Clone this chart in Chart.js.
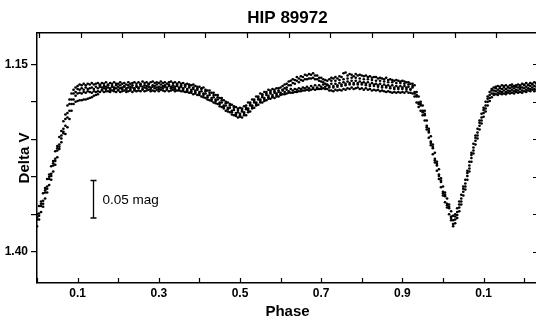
<!DOCTYPE html>
<html><head><meta charset="utf-8">
<script src="https://cdn.jsdelivr.net/npm/chart.js@4/dist/chart.umd.min.js"></script>
<style>
html,body{margin:0;padding:0;background:#fff;overflow:hidden;width:536px;height:326px}
#wrap{width:545px;height:326px}
canvas{display:block}
</style>
</head><body>
<div id="wrap"><canvas id="c" width="545" height="326"></canvas></div>
<script>
const titleText = 'HIP 89972';
const xTitle = 'Phase';
const yTitle = 'Delta V';

const phase = [
0,0.005,0.01,0.015,0.02,0.025,0.03,0.035,0.04,0.045,
0.05,0.055,0.06,0.065,0.07,0.075,0.08,0.085,0.09,0.095,
0.1,0.105,0.11,0.115,0.12,0.125,0.13,0.135,0.14,0.145,
0.15,0.155,0.16,0.165,0.17,0.175,0.18,0.185,0.19,0.195,
0.2,0.205,0.21,0.215,0.22,0.225,0.23,0.235,0.24,0.245,
0.25,0.255,0.26,0.265,0.27,0.275,0.28,0.285,0.29,0.295,
0.3,0.305,0.31,0.315,0.32,0.325,0.33,0.335,0.34,0.345,
0.35,0.355,0.36,0.365,0.37,0.375,0.38,0.385,0.39,0.395,
0.4,0.405,0.41,0.415,0.42,0.425,0.43,0.435,0.44,0.445,
0.45,0.455,0.46,0.465,0.47,0.475,0.48,0.485,0.49,0.495,
0.5,0.505,0.51,0.515,0.52,0.525,0.53,0.535,0.54,0.545,
0.55,0.555,0.56,0.565,0.57,0.575,0.58,0.585,0.59,0.595,
0.6,0.605,0.61,0.615,0.62,0.625,0.63,0.635,0.64,0.645,
0.65,0.655,0.66,0.665,0.67,0.675,0.68,0.685,0.69,0.695,
0.7,0.705,0.71,0.715,0.72,0.725,0.73,0.735,0.74,0.745,
0.75,0.755,0.76,0.765,0.77,0.775,0.78,0.785,0.79,0.795,
0.8,0.805,0.81,0.815,0.82,0.825,0.83,0.835,0.84,0.845,
0.85,0.855,0.86,0.865,0.87,0.875,0.88,0.885,0.89,0.895,
0.9,0.905,0.91,0.915,0.92,0.925,0.93,0.935,0.94,0.945,
0.95,0.955,0.96,0.965,0.97,0.975,0.98,0.985,0.99,0.995,
1,1.005,1.01,1.015,1.02,1.025,1.03,1.035,1.04,1.045,
1.05,1.055,1.06,1.065,1.07,1.075,1.08,1.085,1.09,1.095,
1.1,1.105,1.11,1.115,1.12,1.125,1.13,1.135,1.14,1.145,
1.15,1.155,1.16,1.165,1.17,1.175,1.18,1.185,1.19,1.195,
1.2,1.205,1.21,1.215,1.22,1.225,1.23
];

const magA = [
1.350,1.339,1.333,1.322,1.315,1.303,1.297,1.286,1.279,1.266,
1.259,1.247,1.239,1.226,1.217,1.205,1.197,1.189,1.184,1.181,
1.179,1.177,1.178,1.176,1.178,1.176,1.177,1.175,1.177,1.176,
1.175,1.177,1.175,1.176,1.174,1.177,1.175,1.176,1.174,1.176,
1.176,1.174,1.176,1.175,1.177,1.174,1.176,1.175,1.174,1.176,
1.174,1.176,1.173,1.175,1.174,1.176,1.174,1.173,1.175,1.174,
1.175,1.173,1.175,1.174,1.176,1.174,1.173,1.175,1.174,1.176,
1.174,1.176,1.175,1.177,1.176,1.177,1.178,1.177,1.179,1.180,
1.180,1.182,1.181,1.184,1.185,1.185,1.188,1.188,1.191,1.191,
1.195,1.195,1.198,1.200,1.201,1.203,1.204,1.206,1.207,1.209,
1.208,1.209,1.206,1.205,1.201,1.201,1.197,1.197,1.193,1.193,
1.189,1.190,1.187,1.187,1.184,1.185,1.183,1.184,1.182,1.182,
1.181,1.179,1.177,1.176,1.173,1.172,1.170,1.171,1.167,1.169,
1.166,1.167,1.164,1.165,1.163,1.164,1.162,1.165,1.165,1.168,
1.168,1.170,1.171,1.172,1.170,1.168,1.169,1.167,1.169,1.166,
1.167,1.162,1.161,1.165,1.163,1.164,1.166,1.163,1.165,1.164,
1.165,1.166,1.165,1.167,1.166,1.168,1.167,1.167,1.169,1.168,
1.169,1.170,1.168,1.171,1.170,1.171,1.172,1.171,1.172,1.173,
1.172,1.173,1.174,1.174,1.176,1.176,1.178,1.187,1.193,1.200,
1.205,1.212,1.225,1.236,1.246,1.257,1.268,1.280,1.290,1.302,
1.313,1.321,1.329,1.337,1.346,1.352,1.350,1.342,1.333,1.324,
1.313,1.304,1.292,1.280,1.268,1.256,1.245,1.236,1.225,1.216,
1.208,1.200,1.193,1.187,1.183,1.181,1.180,1.179,1.180,1.178,
1.179,1.178,1.180,1.178,1.177,1.179,1.178,1.177,1.178,1.176,
1.177,1.175,1.177,1.175,1.176,1.174,1.175
];

const magB = [
1.357,1.349,1.339,1.332,1.321,1.313,1.303,1.296,1.285,1.276,
1.265,1.257,1.245,1.236,1.223,1.215,1.203,1.197,1.189,1.187,
1.183,1.184,1.182,1.184,1.181,1.183,1.182,1.181,1.183,1.180,
1.182,1.180,1.181,1.182,1.180,1.181,1.182,1.180,1.181,1.182,
1.180,1.182,1.181,1.180,1.182,1.181,1.180,1.181,1.182,1.180,
1.181,1.179,1.180,1.181,1.179,1.180,1.181,1.180,1.179,1.181,
1.180,1.181,1.179,1.180,1.181,1.179,1.180,1.181,1.180,1.179,
1.181,1.180,1.182,1.180,1.183,1.181,1.184,1.183,1.185,1.184,
1.187,1.186,1.189,1.189,1.192,1.191,1.195,1.194,1.197,1.197,
1.201,1.201,1.205,1.205,1.208,1.208,1.212,1.211,1.215,1.214,
1.216,1.213,1.214,1.210,1.209,1.205,1.205,1.201,1.201,1.197,
1.197,1.194,1.195,1.191,1.192,1.189,1.191,1.188,1.189,1.187,
1.188,1.185,1.187,1.184,1.186,1.183,1.185,1.183,1.184,1.182,
1.183,1.181,1.182,1.180,1.182,1.179,1.181,1.178,1.181,1.178,
1.180,1.177,1.180,1.177,1.179,1.176,1.179,1.176,1.178,1.175,
1.177,1.174,1.176,1.173,1.175,1.172,1.175,1.172,1.175,1.173,
1.175,1.174,1.176,1.174,1.177,1.175,1.177,1.176,1.178,1.176,
1.179,1.177,1.179,1.178,1.180,1.178,1.181,1.179,1.181,1.179,
1.181,1.179,1.181,1.180,1.183,1.181,1.187,1.193,1.201,1.205,
1.212,1.218,1.232,1.241,1.253,1.262,1.276,1.285,1.297,1.307,
1.320,1.326,1.336,1.342,1.353,1.358,1.357,1.347,1.341,1.329,
1.320,1.309,1.299,1.285,1.275,1.261,1.252,1.241,1.232,1.221,
1.215,1.205,1.200,1.191,1.189,1.185,1.186,1.184,1.186,1.183,
1.185,1.183,1.185,1.182,1.184,1.182,1.184,1.181,1.183,1.181,
1.182,1.180,1.182,1.179,1.181,1.179,1.180
];

const magC = [
1.366,1.357,1.347,1.340,1.329,1.321,1.311,1.304,1.293,1.284,
1.274,1.263,1.254,1.242,1.232,1.221,1.212,1.203,1.197,1.192,
1.189,1.188,1.189,1.187,1.188,1.186,1.187,1.188,1.186,1.187,
1.186,1.187,1.185,1.187,1.186,1.186,1.187,1.185,1.186,1.187,
1.185,1.187,1.186,1.185,1.187,1.186,1.185,1.187,1.185,1.186,
1.185,1.186,1.184,1.186,1.185,1.184,1.186,1.185,1.186,1.184,
1.186,1.184,1.185,1.186,1.184,1.186,1.185,1.184,1.186,1.185,
1.185,1.186,1.186,1.187,1.187,1.188,1.188,1.190,1.189,1.191,
1.191,1.193,1.194,1.195,1.197,1.198,1.199,1.201,1.202,1.203,
1.206,1.207,1.209,1.212,1.213,1.214,1.217,1.218,1.219,1.221,
1.220,1.221,1.218,1.218,1.214,1.213,1.209,1.208,1.205,1.204,
1.201,1.201,1.199,1.198,1.196,1.196,1.194,1.195,1.193,1.193,
1.191,1.190,1.190,1.189,1.188,1.188,1.188,1.187,1.187,1.186,
1.186,1.185,1.185,1.184,1.185,1.184,1.183,1.184,1.183,1.183,
1.183,1.182,1.183,1.183,1.185,1.185,1.186,1.184,1.185,1.184,
1.185,1.183,1.184,1.182,1.183,1.181,1.183,1.182,1.181,1.183,
1.182,1.184,1.182,1.184,1.183,1.185,1.184,1.185,1.184,1.186,
1.185,1.186,1.187,1.186,1.187,1.188,1.187,1.188,1.187,1.188,
1.187,1.188,1.186,1.188,1.188,1.189,1.193,1.201,1.207,1.212,
1.218,1.225,1.237,1.248,1.258,1.270,1.281,1.292,1.303,1.314,
1.325,1.334,1.341,1.350,1.358,1.366,1.362,1.355,1.346,1.337,
1.325,1.317,1.304,1.293,1.280,1.269,1.257,1.249,1.237,1.229,
1.220,1.213,1.205,1.199,1.194,1.191,1.190,1.191,1.189,1.190,
1.189,1.190,1.188,1.189,1.188,1.189,1.187,1.188,1.187,1.188,
1.186,1.187,1.185,1.186,1.184,1.186,1.184
];

const magD = [
1.354,1.352,1.336,1.336,1.318,1.316,1.300,1.299,1.282,1.279,
1.262,1.260,1.249,1.240,1.243,1.234,1.223,1.212,1.203,1.200,
1.199,1.198,1.198,1.197,1.197,1.196,1.195,1.194,1.192,1.191,
1.190,1.178,1.184,1.179,1.183,1.178,1.184,1.179,1.183,1.178,
1.184,1.178,1.183,1.179,1.184,1.178,1.183,1.178,1.184,1.179,
1.182,1.177,1.183,1.178,1.182,1.177,1.183,1.178,1.182,1.177,
1.183,1.177,1.182,1.178,1.183,1.177,1.182,1.178,1.183,1.177,
1.183,1.178,1.184,1.178,1.185,1.179,1.186,1.181,1.187,1.182,
1.189,1.183,1.191,1.186,1.194,1.188,1.197,1.191,1.199,1.194,
1.203,1.198,1.207,1.202,1.210,1.205,1.214,1.208,1.217,1.211,
1.218,1.211,1.216,1.208,1.211,1.203,1.207,1.199,1.203,1.195,
1.199,1.192,1.197,1.189,1.194,1.187,1.193,1.186,1.191,1.185,
1.190,1.184,1.182,1.181,1.178,1.178,1.175,1.176,1.172,1.174,
1.171,1.172,1.170,1.170,1.169,1.169,1.168,1.170,1.170,1.172,
1.173,1.174,1.176,1.178,1.181,1.172,1.181,1.172,1.180,1.171,
1.179,1.170,1.178,1.169,1.177,1.168,1.177,1.168,1.177,1.169,
1.177,1.170,1.178,1.170,1.179,1.171,1.179,1.172,1.180,1.172,
1.181,1.173,1.181,1.174,1.182,1.174,1.183,1.175,1.183,1.175,
1.183,1.176,1.183,1.177,1.184,1.179,1.189,1.191,1.203,1.203,
1.214,1.216,1.234,1.239,1.255,1.260,1.278,1.283,1.299,1.305,
1.322,1.324,1.338,1.340,1.355,1.363,1.353,1.351,1.337,1.333,
1.316,1.313,1.295,1.289,1.271,1.265,1.248,1.245,1.228,1.225,
1.211,1.209,1.196,1.195,1.185,1.189,1.182,1.188,1.182,1.187,
1.181,1.187,1.181,1.186,1.180,1.186,1.180,1.185,1.180,1.185,
1.178,1.184,1.178,1.183,1.177,1.183,1.176
];

const xTickValues = [0,0.1,0.2,0.3,0.4,0.5,0.6,0.7,0.8,0.9,1.0,1.1,1.2];
const xTickLabels = ['','0.1','','0.3','','0.5','','0.7','','0.9','','0.1',''];
const topTickValues = [0,0.1,0.2,0.3,0.4,0.5,0.6,0.7,0.8,0.9,1.0,1.1,1.2];
const yTickValues = [1.15,1.20,1.25,1.30,1.35,1.40];
const yTickLabels = ['1.15','','','','','1.40'];
const scaleBarMag = 0.05;
const scaleBarLabel = '0.05 mag';

const FONT = "'Liberation Sans', Arial, Helvetica, sans-serif";
const BLACK = '#000';

const pts = arr => phase.map((p, i) => ({x: p, y: arr[i]}));
const mkDs = arr => ({
  data: pts(arr),
  pointRadius: 1.35,
  pointHoverRadius: 1.35,
  pointBackgroundColor: BLACK,
  pointBorderWidth: 0,
  showLine: false
});

const frameTicks = {
  id: 'frameTicks',
  afterDraw(chart) {
    const {ctx, chartArea: a, scales} = chart;
    ctx.save();
    ctx.strokeStyle = BLACK;
    ctx.lineWidth = 1.2;
    ctx.beginPath();
    scales.x.ticks.forEach(t => {
      const px = Math.round(scales.x.getPixelForValue(t.value)) + 0.5;
      ctx.moveTo(px, a.bottom); ctx.lineTo(px, a.bottom - 5);
    });
    scales.xTop.ticks.forEach(t => {
      const px = Math.round(scales.xTop.getPixelForValue(t.value)) + 0.5;
      ctx.moveTo(px, a.top); ctx.lineTo(px, a.top + 5);
    });
    scales.yRight.ticks.forEach(t => {
      const py = Math.round(scales.yRight.getPixelForValue(t.value)) + 0.5;
      ctx.moveTo(a.right, py); ctx.lineTo(a.right - 5, py);
    });
    ctx.stroke();
    ctx.restore();
  }
};

const scaleBar = {
  id: 'scaleBar',
  afterDatasetsDraw(chart, args, opts) {
    const {ctx, scales: {x, y}} = chart;
    const px = Math.round(x.getPixelForValue(opts.phase)) + 0.5;
    const y1 = y.getPixelForValue(opts.top);
    const y2 = y.getPixelForValue(opts.top + scaleBarMag);
    ctx.save();
    ctx.strokeStyle = BLACK;
    ctx.lineWidth = 1.3;
    ctx.beginPath();
    ctx.moveTo(px, y1); ctx.lineTo(px, y2);
    ctx.moveTo(px - 3, y1); ctx.lineTo(px + 3, y1);
    ctx.moveTo(px - 3, y2); ctx.lineTo(px + 3, y2);
    ctx.stroke();
    ctx.fillStyle = BLACK;
    ctx.font = '13.5px ' + FONT;
    ctx.textAlign = 'left';
    ctx.textBaseline = 'middle';
    ctx.fillText(scaleBarLabel, px + 9, (y1 + y2) / 2 + 1);
    ctx.restore();
  }
};

const borderOpt = {display: true, color: BLACK, width: 1.5};

new Chart(document.getElementById('c'), {
  type: 'scatter',
  data: {datasets: [mkDs(magA), mkDs(magB), mkDs(magC), mkDs(magD)]},
  options: {
    responsive: false,
    animation: false,
    devicePixelRatio: 1,
    layout: {padding: 0},
    events: [],
    plugins: {
      legend: {display: false},
      tooltip: {enabled: false},
      title: {
        display: true, text: titleText, fullSize: false, color: BLACK,
        font: {family: FONT, size: 17, weight: 'bold'},
        padding: {top: 8, bottom: 0}
      },
      scaleBar: {phase: 0.1374, top: 1.305}
    },
    scales: {
      x: {
        type: 'linear', position: 'bottom', min: 0, max: 1.234,
        afterBuildTicks: s => { s.ticks = xTickValues.map(v => ({value: v})); },
        afterFit: s => { s.height = 43; },
        ticks: {
          autoSkip: false, maxRotation: 0, minRotation: 0, padding: 3, color: BLACK,
          font: {family: FONT, size: 12, weight: 'bold'},
          callback: (v, i) => xTickLabels[i]
        },
        grid: {display: true, drawOnChartArea: false, drawTicks: false},
        border: borderOpt,
        title: {
          display: true, text: xTitle, color: BLACK,
          font: {family: FONT, size: 15, weight: 'bold'},
          padding: {top: 0, bottom: 5}
        }
      },
      xTop: {
        type: 'linear', position: 'top', min: -0.005, max: 1.2,
        afterBuildTicks: s => { s.ticks = topTickValues.map(v => ({value: v})); },
        afterFit: s => { s.height = 4.6; },
        ticks: {display: false},
        grid: {display: true, drawOnChartArea: false, drawTicks: false},
        border: borderOpt
      },
      y: {
        type: 'linear', position: 'left', reverse: true, min: 1.1083, max: 1.4417,
        afterBuildTicks: s => { s.ticks = yTickValues.map(v => ({value: v})); },
        afterFit: s => { s.width = 37; },
        ticks: {
          autoSkip: false, padding: 3, color: BLACK,
          font: {family: FONT, size: 12, weight: 'bold'},
          callback: (v, i) => yTickLabels[i]
        },
        grid: {display: true, drawOnChartArea: false, drawTicks: true, tickLength: 6, color: BLACK, lineWidth: 1.2},
        border: borderOpt,
        title: {
          display: true, text: yTitle, color: BLACK,
          font: {family: FONT, size: 15, weight: 'bold'},
          padding: {top: 16, bottom: 0}
        }
      },
      yRight: {
        type: 'linear', position: 'right', reverse: true, min: 1.1083, max: 1.4417,
        afterBuildTicks: s => { s.ticks = yTickValues.map(v => ({value: v})); },
        afterFit: s => { s.width = 7; },
        ticks: {display: false},
        grid: {display: true, drawOnChartArea: false, drawTicks: false},
        border: borderOpt
      }
    }
  },
  plugins: [frameTicks, scaleBar]
});
</script>
</body></html>
